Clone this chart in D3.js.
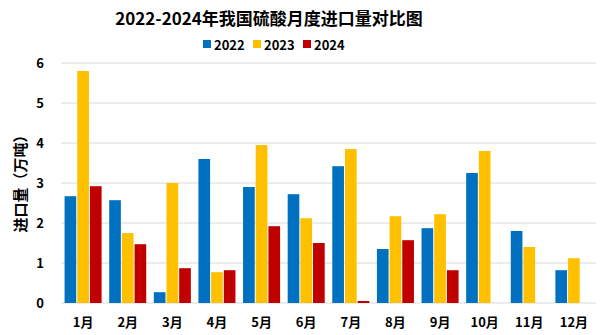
<!DOCTYPE html>
<html><head><meta charset="utf-8">
<script src="https://cdn.jsdelivr.net/npm/d3@7/dist/d3.min.js"></script>
<style>body{margin:0;background:#fff}svg{display:block;font-family:"Noto Sans CJK SC","Microsoft YaHei",sans-serif}</style>
</head><body><svg id="c" width="601" height="335"></svg>
<script>
const months = ["1月","2月","3月","4月","5月","6月","7月","8月","9月","10月","11月","12月"];
const seriesNames = ["2022","2023","2024"];
const v2022 = [2.67,2.57,0.27,3.6,2.9,2.72,3.42,1.35,1.87,3.25,1.8,0.82];
const v2023 = [5.8,1.75,3.0,0.77,3.95,2.12,3.85,2.17,2.22,3.8,1.4,1.12];
const v2024 = [2.92,1.47,0.87,0.82,1.92,1.5,0.05,1.57,0.82,null,null,null];
const yTicks = [0,1,2,3,4,5,6];
const colors = ["#0070c0","#ffc000","#c00000"];

const svg = d3.select("#c");
const m = {l:61,r:5,t:63,b:32};
const W = 601, H = 335;
const x0 = d3.scaleBand().domain(months).range([m.l, W-m.r]).paddingInner(0.17).paddingOuter(0.08);
const x1 = d3.scaleBand().domain(seriesNames).range([0, x0.bandwidth()]).paddingInner(0.08);
const y = d3.scaleLinear().domain([0,6]).range([H-m.b, m.t]);

// gridlines
svg.append("g").selectAll("line").data(yTicks).join("line")
  .attr("x1", m.l).attr("x2", W-m.r)
  .attr("y1", d=>y(d)).attr("y2", d=>y(d))
  .attr("stroke","#d9d9d9").attr("stroke-width",1);

const data = [v2022,v2023,v2024];
const g = svg.append("g");
data.forEach((arr,si)=>{
  g.append("g").selectAll("rect").data(arr.map((v,i)=>({m:months[i],v}))).join("rect")
   .filter(d=>d.v!==null)
   .attr("x", d=>x0(d.m)+x1(seriesNames[si]))
   .attr("width", x1.bandwidth())
   .attr("y", d=>y(d.v))
   .attr("height", d=>y(0)-y(d.v))
   .attr("fill", colors[si]);
});

// y axis labels
const yAxis = d3.axisLeft(y).tickValues(yTicks).tickSize(0).tickPadding(0).tickFormat(d3.format("d"));
const ya = svg.append("g").attr("transform",`translate(44,0)`).call(yAxis);
ya.select(".domain").remove();
ya.selectAll("text").attr("font-size",13).attr("font-weight","bold").attr("fill","#000").attr("text-anchor","end").attr("font-family","'Noto Sans CJK SC',sans-serif");

// x axis labels
const xAxis = d3.axisBottom(x0).tickSize(0).tickPadding(0);
const xa = svg.append("g").attr("transform",`translate(0,${H-m.b+15})`).call(xAxis);
xa.select(".domain").remove();
xa.selectAll("text").attr("font-size",13).attr("font-weight","bold").attr("fill","#000").attr("font-family","'Noto Sans CJK SC',sans-serif");

// y title
svg.append("text").attr("transform",`translate(19,180) rotate(-90)`)
  .attr("text-anchor","middle").attr("dominant-baseline","central")
  .attr("font-size",15).attr("font-weight","bold").text("进口量（万吨）");

// title
svg.append("text").attr("x",269).attr("y",17).attr("text-anchor","middle").attr("dominant-baseline","central")
  .attr("font-size",17).attr("font-weight","bold").text("2022-2024年我国硫酸月度进口量对比图");

// legend
const lx = [203,253,303];
const lg = svg.append("g");
seriesNames.forEach((s,i)=>{
  lg.append("rect").attr("x",lx[i]).attr("y",40).attr("width",8).attr("height",8).attr("fill",colors[i]);
  lg.append("text").attr("x",lx[i]+11).attr("y",44.5).attr("dominant-baseline","central")
    .attr("font-size",13).attr("font-weight","bold").text(s);
});
</script></body></html>
